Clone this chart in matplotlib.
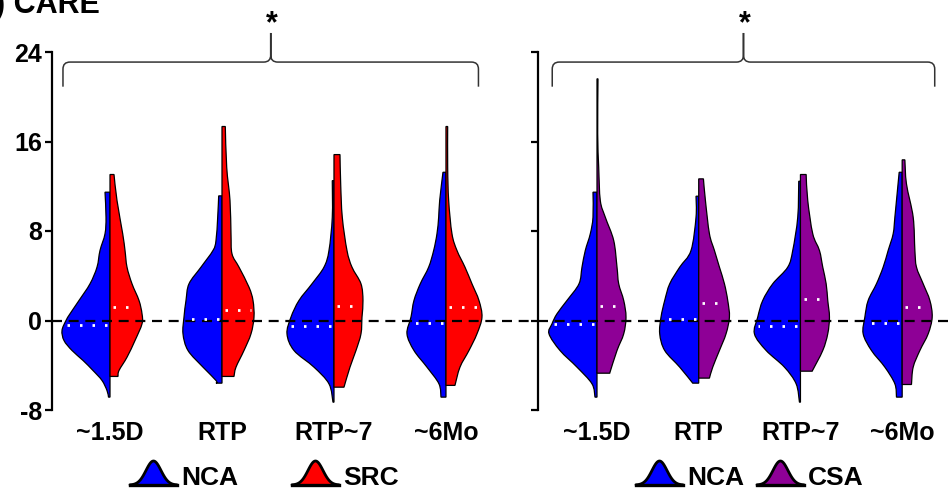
import numpy as np
import matplotlib
matplotlib.use('Agg')
import matplotlib.pyplot as plt
from matplotlib.path import Path
from matplotlib.patches import PathPatch

plt.rcParams['font.family'] = ['Liberation Sans', 'DejaVu Sans']
plt.rcParams['font.weight'] = 'bold'

timepoints = ['~1.5D', 'RTP', 'RTP~7', '~6Mo']
positions = [1, 2, 3, 4]

# half-violin outlines: levels (score) and relative half-widths (density)
# left panel, NCA
nca_a_levels = [
    [11.47, 9.23, 7.75, 6.26, 4.77, 3.28, 1.79, 0.6, 0, -0.89, -1.79, -2.68, -3.57, -4.47, -5.36, -6.26, -6.85],
    [11.14, 9.23, 7.15, 6.26, 4.77, 3.28, 1.79, 0.3, -1.19, -2.68, -4.17, -5.36, -5.6],
    [12.5, 9.23, 6.26, 4.77, 3.28, 1.79, 0.3, -1.19, -2.68, -4.17, -5.66, -7.3],
    [13.25, 10.72, 9.23, 7.75, 6.26, 4.77, 3.28, 1.79, 0.3, -1.19, -2.68, -4.17, -5.66, -6.85],
]
nca_a_widths = [
    [5, 4, 5, 10, 13, 20, 31, 40, 44, 48, 46, 38, 27, 17, 8, 3, 1.5],
    [3.3, 4.3, 6, 9, 21, 33, 36, 38, 39, 34, 19, 6, 6],
    [1.7, 1.7, 5, 10, 22, 35, 43, 47, 40, 20, 5, 1],
    [3, 6.3, 7.3, 9, 12.3, 17.3, 25.7, 32, 35, 39, 32, 19, 7, 5],
]
# left panel, SRC
src_levels = [
    [13.05, 10.72, 7.75, 6.26, 4.77, 3.28, 1.79, 0.6, -0.3, -1.79, -3.28, -4.47, -5.0],
    [17.34, 13.7, 10.72, 7.75, 5.96, 4.77, 2.98, 1.79, 0.3, -1.19, -2.68, -4.17, -5.0],
    [14.83, 12.2, 9.23, 6.26, 4.77, 3.28, 1.79, 0.3, -1.19, -2.68, -4.17, -5.96],
    [17.34, 13.7, 10.72, 7.75, 6.26, 4.77, 3.28, 1.79, 0.3, -1.19, -2.68, -4.17, -5.8],
]
src_widths = [
    [4, 7, 12.7, 15, 17, 22, 29, 32, 32, 25, 17, 9, 8],
    [3.3, 4.7, 8, 9, 10, 17, 27, 31, 32, 29, 22, 14, 12],
    [6, 6.7, 8.3, 13, 18, 27, 29, 28, 27, 22, 16, 10],
    [1.7, 1.7, 2.7, 6, 11, 19, 26, 33, 36, 31, 23, 14, 9],
]
# right panel, NCA
nca_b_levels = [
    [11.47, 9.23, 7.75, 6.26, 4.77, 3.28, 1.79, 0.6, -0.3, -1.19, -2.68, -4.17, -5.66, -6.85],
    [11.11, 9.23, 6.26, 4.77, 3.28, 1.79, 0.3, -1.19, -2.68, -4.17, -5.6],
    [12.45, 9.23, 6.26, 4.77, 3.28, 1.79, 0.3, -1.19, -2.68, -4.17, -5.66, -7.3],
    [13.25, 10.72, 9.23, 7.75, 6.26, 4.77, 3.28, 1.79, 0.3, -1.19, -2.68, -4.17, -5.66, -6.85],
]
nca_b_widths = [
    [4, 4, 6.7, 11.7, 15, 18, 30, 40, 45, 48, 37, 20, 5, 2],
    [2.7, 2.7, 7.7, 19, 29, 34, 37.7, 39, 34, 19, 6],
    [1.7, 2.7, 7.7, 12.7, 27.7, 37.7, 42.7, 46, 34.3, 16, 4.3, 1],
    [3, 5.7, 7.3, 9, 14, 19, 25.7, 34, 37.3, 39, 30.7, 17.3, 7.3, 5.7],
]
# right panel, CSA
csa_levels = [
    [21.6, 16.7, 13.7, 10.72, 9.23, 7.15, 4.77, 3.28, 1.79, 0.3, -1.19, -2.68, -4.71],
    [12.66, 10.72, 7.75, 6.26, 4.77, 3.28, 1.79, 0.3, -1.19, -2.68, -4.17, -5.15],
    [13.05, 10.72, 7.75, 6.26, 4.77, 3.28, 1.79, 0.3, -1.19, -2.68, -4.53],
    [14.36, 12.2, 9.23, 6.26, 4.77, 3.28, 1.79, 0.3, -1.19, -2.68, -4.17, -5.72],
]
csa_widths = [
    [1, 0.7, 1.7, 3.3, 8.3, 16.7, 20, 21.7, 26.7, 29, 26.7, 20, 12.7],
    [4.7, 6.7, 10.7, 15.7, 20.7, 25.7, 29, 30.7, 27.3, 20.7, 14, 10.7],
    [5.7, 7.3, 12.3, 19, 22.3, 25.7, 27.3, 29, 27.3, 22.3, 11.7],
    [2.7, 4.3, 11, 12.7, 14.3, 21, 27.7, 30, 26, 17.7, 11, 9.3],
]

# medians (white dotted lines)
nca_a_median = [-0.36, 0.15, -0.5, -0.24]
src_median = [1.25, 0.98, 1.34, 1.2]
nca_b_median = [-0.3, 0.15, -0.5, -0.24]
csa_median = [1.28, 1.6, 1.88, 1.2]

BLUE = '#0000ff'
RED = '#ff0000'
PURPLE = '#8e0096'

W, H = 951, 488
fig = plt.figure(figsize=(W / 100, H / 100), dpi=100)
axL = fig.add_axes([52 / W, 78 / H, (535 - 52) / W, 358 / H])
axR = fig.add_axes([538 / W, 78 / H, (W - 538) / W, 358 / H])


def smooth_path(pts):
    # catmull-rom through the outline points, drawn as cubic beziers
    pts = np.asarray(pts, dtype=float)
    ext = np.vstack([pts[0], pts, pts[-1]])
    verts = [tuple(pts[0])]
    codes = [Path.MOVETO]
    for i in range(1, len(ext) - 2):
        p0, p1, p2, p3 = ext[i - 1], ext[i], ext[i + 1], ext[i + 2]
        c1 = p1 + (p2 - p0) / 6.0
        c2 = p2 - (p3 - p1) / 6.0
        verts += [tuple(c1), tuple(c2), tuple(p2)]
        codes += [Path.CURVE4] * 3
    return verts, codes


def half_violin(ax, pos, levels, widths, scale, color, side, med):
    ys = np.array(levels, dtype=float)
    wd = np.array(widths, dtype=float) / scale
    xs = pos + side * wd
    v, c = smooth_path(list(zip(xs, ys)))
    verts = [(pos, ys[0])] + v + [(pos, ys[-1]), (pos, ys[0])]
    codes = [Path.MOVETO, Path.LINETO] + c[1:] + [Path.LINETO, Path.CLOSEPOLY]
    ax.add_patch(PathPatch(Path(verts, codes), fc=color, ec='black', lw=0.9, zorder=2))
    wm = np.interp(med, ys[::-1], wd[::-1])
    ax.plot([pos + side * 0.03, pos + side * (wm - 0.02)], [med, med], color='white',
            lw=2.0, dashes=(0.9, 3.6), zorder=4, solid_capstyle='butt')


def setup(ax, xlim, show_labels):
    ax.set_xlim(*xlim)
    ax.set_ylim(-8, 24)
    ax.set_yticks([-8, 0, 8, 16, 24])
    if show_labels:
        ax.set_yticklabels(['-8', '0', '8', '16', '24'])
    else:
        ax.set_yticklabels([])
    ax.set_xticks(positions)
    ax.set_xticklabels(timepoints)
    for s in ['top', 'right', 'bottom']:
        ax.spines[s].set_visible(False)
    ax.spines['left'].set_linewidth(1.6)
    ax.tick_params(axis='y', length=5, width=1.6, pad=2, labelsize=18)
    ax.tick_params(axis='x', length=0, pad=8, labelsize=18)
    ax.patch.set_visible(False)
    ax.axhline(0, color='black', lw=1.6, dashes=(4.5, 3), zorder=3)


setup(axL, (0.482, 4.795), True)
setup(axR, (0.42, 4.48), False)

for i, p in enumerate(positions):
    half_violin(axL, p, nca_a_levels[i], nca_a_widths[i], 112, BLUE, -1, nca_a_median[i])
    half_violin(axL, p, src_levels[i], src_widths[i], 112, RED, 1, src_median[i])
    half_violin(axR, p, nca_b_levels[i], nca_b_widths[i], 101.7, BLUE, -1, nca_b_median[i])
    half_violin(axR, p, csa_levels[i], csa_widths[i], 101.7, PURPLE, 1, csa_median[i])

# overlay in pixel coordinates for braces, title and legend
ov = fig.add_axes([0, 0, 1, 1])
ov.set_xlim(0, W)
ov.set_ylim(0, H)
ov.axis('off')


def brace(ax, x0, x1):
    px0 = ax.transData.transform((x0, 23.1))
    px1 = ax.transData.transform((x1, 23.1))
    yl = px0[1]
    yend = ax.transData.transform((0, 20.9))[1]
    ytip = ax.transData.transform((0, 25.7))[1]
    xm = (px0[0] + px1[0]) / 2
    r = 7
    verts = [(px0[0], yend), (px0[0], yl - r), (px0[0], yl), (px0[0] + r, yl),
             (xm - r, yl), (xm, yl), (xm, yl + r), (xm, ytip),
             (xm, yl + r), (xm, yl), (xm + r, yl),
             (px1[0] - r, yl), (px1[0], yl), (px1[0], yl - r), (px1[0], yend)]
    codes = [Path.MOVETO, Path.LINETO, Path.CURVE3, Path.CURVE3,
             Path.LINETO, Path.CURVE3, Path.CURVE3, Path.LINETO,
             Path.LINETO, Path.CURVE3, Path.CURVE3,
             Path.LINETO, Path.CURVE3, Path.CURVE3, Path.LINETO]
    ov.add_patch(PathPatch(Path(verts, codes), fc='none', ec='#333333', lw=1.1))
    ov.text(xm + 1, ytip - 6, '*', ha='center', va='bottom', fontsize=22, fontweight='bold')


brace(axL, positions[0] - 0.42, positions[-1] + 0.29)
brace(axR, positions[0] - 0.44, positions[-1] + 0.32)

ov.text(-5, H - 13, ') CARE', ha='left', va='baseline', fontsize=22, fontweight='bold')


def bell(x0, color, label):
    xs = np.linspace(x0, x0 + 47, 120)
    xc = x0 + 23.5
    yb = 3
    ys = yb + 24 * np.exp(-0.5 * ((xs - xc) / 7.5) ** 2)
    ov.fill_between(xs, yb, ys, color=color, lw=0)
    ov.plot(xs, ys, color='black', lw=2.0, solid_capstyle='round')
    ov.plot([x0, x0 + 47], [yb, yb], color='black', lw=2.4)
    ov.text(x0 + 51, yb, label, ha='left', va='baseline', fontsize=19, fontweight='bold')


bell(130, BLUE, 'NCA')
bell(292, RED, 'SRC')
bell(636, BLUE, 'NCA')
bell(757, PURPLE, 'CSA')

fig.savefig('out.png', dpi=100)
